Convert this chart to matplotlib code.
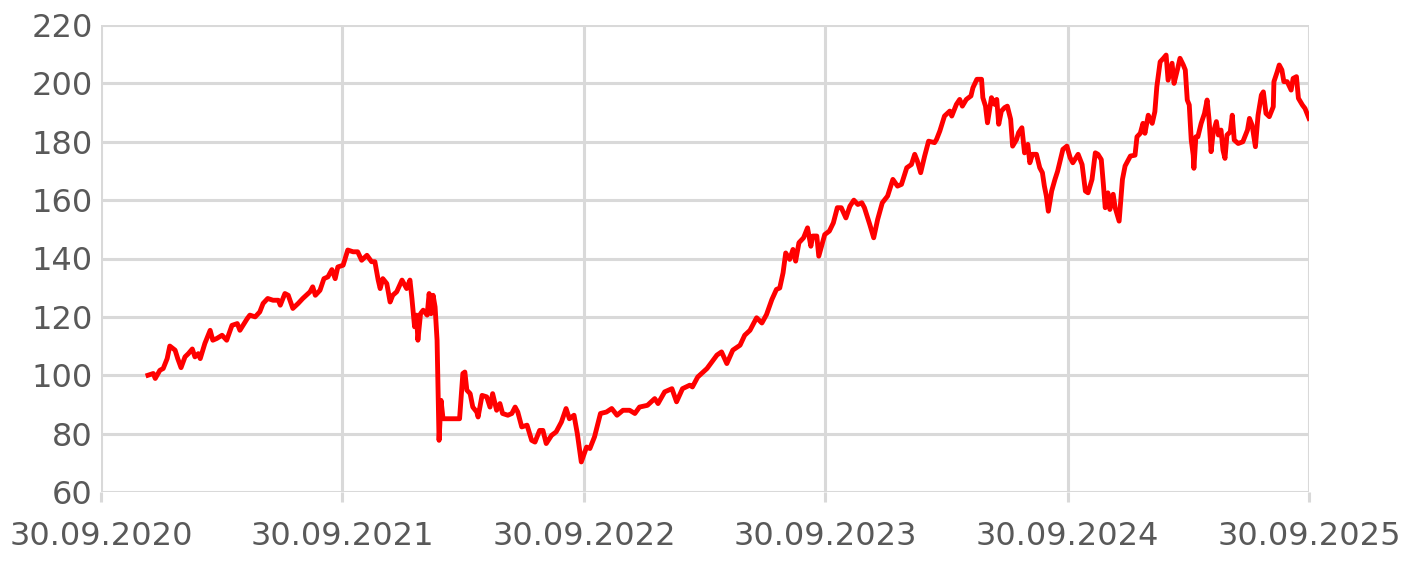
import pandas as pd
import matplotlib
matplotlib.use("Agg")
import matplotlib.pyplot as plt
import matplotlib.dates as mdates

# Werte
dates_2021 = ["2020-12-10", "2020-12-18", "2020-12-21", "2020-12-28", "2021-01-02", "2021-01-08",
              "2021-01-12", "2021-01-20", "2021-01-24", "2021-01-29", "2021-02-04", "2021-02-09",
              "2021-02-15", "2021-02-19", "2021-02-24", "2021-02-27", "2021-03-06", "2021-03-14",
              "2021-03-18", "2021-03-24", "2021-04-01", "2021-04-08", "2021-04-16", "2021-04-24",
              "2021-04-28", "2021-05-09", "2021-05-13", "2021-05-21", "2021-05-28", "2021-06-02",
              "2021-06-09", "2021-06-17", "2021-06-25", "2021-06-28", "2021-07-05", "2021-07-10",
              "2021-07-17", "2021-07-25", "2021-08-01", "2021-08-12", "2021-08-16", "2021-08-20",
              "2021-08-27", "2021-09-02", "2021-09-08", "2021-09-14", "2021-09-19", "2021-09-23"]
values_2021 = [100, 100.6, 98.9, 101.7, 102.3, 105.7,
               110, 108.6, 105.7, 102.6, 106.3, 107.4,
               109, 106.3, 107.4, 105.7, 110.9, 115.4,
               112, 112.6, 113.7, 112, 117.1, 117.7,
               115.4, 119.4, 120.6, 120, 121.7, 124.6,
               126.3, 125.7, 125.7, 124, 128, 127.4,
               122.9, 124.6, 126.3, 128.6, 130.3, 127.4,
               129.1, 133.1, 133.7, 136.2, 133.1, 137.1]

dates_2022 = ["2021-10-01", "2021-10-08", "2021-10-16", "2021-10-23", "2021-10-29", "2021-11-06",
              "2021-11-13", "2021-11-18", "2021-11-23", "2021-11-26", "2021-11-30", "2021-12-06",
              "2021-12-11", "2021-12-15", "2021-12-21", "2021-12-29", "2022-01-02", "2022-01-05",
              "2022-01-10", "2022-01-13", "2022-01-17", "2022-01-20", "2022-01-22", "2022-01-26",
              "2022-01-30", "2022-02-05", "2022-02-08", "2022-02-11", "2022-02-14", "2022-02-17",
              "2022-02-20", "2022-02-23", "2022-02-26", "2022-03-01", "2022-03-26", "2022-03-31",
              "2022-04-03", "2022-04-06", "2022-04-11", "2022-04-15", "2022-04-21", "2022-04-23",
              "2022-04-29", "2022-05-06", "2022-05-11", "2022-05-15", "2022-05-21", "2022-05-26",
              "2022-05-30", "2022-06-07", "2022-06-13", "2022-06-18", "2022-06-22", "2022-06-28",
              "2022-07-06", "2022-07-13", "2022-07-18", "2022-07-25", "2022-07-30", "2022-08-04",
              "2022-08-12", "2022-08-19", "2022-08-27", "2022-09-03", "2022-09-08", "2022-09-15",
              "2022-09-20", "2022-09-26"]
values_2022 = [137.7, 142.9, 142.3, 142.3, 139.4, 141.1,
               138.9, 138.9, 132.6, 129.7, 133.1, 131.4,
               125.1, 127.4, 128.6, 132.6, 130.9, 129.7,
               132.6, 126.3, 116.6, 120.6, 112, 121.1,
               122.3, 120.6, 128, 121.1, 127.4, 123.4,
               112, 77.7, 91.4, 85.1, 85.1, 100.6,
               101.1, 94.9, 93.7, 89.1, 87.4, 85.7,
               93.1, 92.6, 89.1, 93.7, 88, 90.3,
               86.9, 86.3, 86.9, 89.1, 87.4, 82.3,
               82.9, 77.7, 77.1, 81.1, 81.1, 76.6,
               79.4, 80.6, 84, 88.6, 85.1, 86.3,
               80, 70.3]

dates_2023 = ["2022-10-04", "2022-10-09", "2022-10-16", "2022-10-25", "2022-11-03", "2022-11-11",
              "2022-11-19", "2022-11-28", "2022-12-08", "2022-12-16", "2022-12-23", "2023-01-04",
              "2023-01-15", "2023-01-20", "2023-01-30", "2023-02-10", "2023-02-17", "2023-02-26",
              "2023-03-09", "2023-03-13", "2023-03-21", "2023-04-04", "2023-04-19", "2023-04-26",
              "2023-05-04", "2023-05-13", "2023-05-24", "2023-05-31", "2023-06-08", "2023-06-18",
              "2023-06-26", "2023-07-03", "2023-07-11", "2023-07-18", "2023-07-23", "2023-07-28",
              "2023-08-01", "2023-08-07", "2023-08-12", "2023-08-16", "2023-08-21", "2023-08-28",
              "2023-09-03", "2023-09-08", "2023-09-11", "2023-09-17", "2023-09-20", "2023-09-29"]
values_2023 = [75.4, 74.9, 78.9, 86.9, 87.4, 88.6,
               86.3, 88, 88, 86.9, 89.1, 89.7,
               92, 90.3, 94.3, 95.4, 90.9, 95.4,
               96.6, 96, 99.4, 102.3, 106.9, 108,
               104, 108.6, 110.3, 113.7, 115.4, 119.7,
               117.9, 120.8, 125.9, 129.4, 129.9, 135.1,
               141.9, 139.7, 143.1, 139.1, 145.4, 147.1,
               150.5, 144.2, 147.7, 147.7, 140.8, 148.2]

dates_2024 = ["2023-10-06", "2023-10-12", "2023-10-18", "2023-10-24", "2023-10-31", "2023-11-06",
              "2023-11-12", "2023-11-18", "2023-11-24", "2023-11-28", "2023-12-06", "2023-12-12",
              "2023-12-18", "2023-12-25", "2024-01-02", "2024-01-10", "2024-01-17", "2024-01-23",
              "2024-01-31", "2024-02-07", "2024-02-12", "2024-02-16", "2024-02-21", "2024-02-27",
              "2024-03-04", "2024-03-13", "2024-03-16", "2024-03-21", "2024-03-28", "2024-04-05",
              "2024-04-08", "2024-04-15", "2024-04-20", "2024-04-24", "2024-04-30", "2024-05-07",
              "2024-05-10", "2024-05-16", "2024-05-23", "2024-05-25", "2024-05-29", "2024-06-01",
              "2024-06-07", "2024-06-12", "2024-06-15", "2024-06-18", "2024-06-22", "2024-06-27",
              "2024-07-01", "2024-07-06", "2024-07-09", "2024-07-15", "2024-07-18", "2024-07-23",
              "2024-07-27", "2024-08-01", "2024-08-04", "2024-08-08", "2024-08-14", "2024-08-19",
              "2024-08-23", "2024-08-26", "2024-08-29", "2024-09-01", "2024-09-06", "2024-09-11",
              "2024-09-15", "2024-09-23", "2024-09-29"]
values_2024 = [149.4, 152.2, 157.4, 157.4, 153.9, 157.9,
               160, 158.5, 159.1, 157.4, 151.7, 147.1,
               153.4, 159.1, 161.4, 167.1, 164.8, 165.4,
               171.1, 172.2, 175.7, 173.4, 169.4, 175.1,
               180.2, 179.7, 180.8, 183.7, 188.8, 190.5,
               188.8, 192.8, 194.5, 192.2, 194.5, 195.7,
               198.5, 201.4, 201.4, 195.1, 192.2, 186.5,
               195.1, 192.8, 194.5, 186, 190.5, 191.7,
               192.2, 187.7, 178.5, 180.8, 183.1, 184.8,
               176.2, 179.1, 172.8, 175.7, 175.7, 171.1,
               169.4, 164.8, 161.4, 156.2, 163.1, 167.1,
               169.9, 177.4, 178.5]

dates_2025 = ["2024-10-04", "2024-10-08", "2024-10-16", "2024-10-22", "2024-10-27", "2024-10-31",
              "2024-11-06", "2024-11-11", "2024-11-15", "2024-11-20", "2024-11-23", "2024-11-26",
              "2024-11-30", "2024-12-03", "2024-12-08", "2024-12-11", "2024-12-17", "2024-12-22",
              "2024-12-26", "2025-01-03", "2025-01-10", "2025-01-13", "2025-01-18", "2025-01-22",
              "2025-01-25", "2025-01-30", "2025-02-05", "2025-02-09", "2025-02-12", "2025-02-17",
              "2025-02-22", "2025-02-26", "2025-03-01", "2025-03-07", "2025-03-10", "2025-03-15",
              "2025-03-19", "2025-03-24", "2025-03-27", "2025-03-30", "2025-04-02", "2025-04-05",
              "2025-04-08", "2025-04-09", "2025-04-12", "2025-04-15", "2025-04-20", "2025-04-25",
              "2025-04-29", "2025-05-02", "2025-05-05", "2025-05-08", "2025-05-13", "2025-05-16",
              "2025-05-20", "2025-05-23", "2025-05-26", "2025-05-29", "2025-06-03", "2025-06-06",
              "2025-06-09", "2025-06-15", "2025-06-22", "2025-06-29", "2025-07-02", "2025-07-06",
              "2025-07-11", "2025-07-15", "2025-07-20", "2025-07-23", "2025-07-27", "2025-08-01",
              "2025-08-07", "2025-08-08", "2025-08-13", "2025-08-16", "2025-08-20", "2025-08-23",
              "2025-08-28", "2025-09-03", "2025-09-06", "2025-09-11", "2025-09-14", "2025-09-20",
              "2025-09-24", "2025-09-30"]
values_2025 = [174.5, 172.8, 175.7, 172.2, 163.1, 162.5,
               167.1, 176.2, 175.7, 173.9, 165.9, 157.4,
               162.5, 156.8, 162, 157.4, 152.8, 167.1,
               171.7, 175.1, 175.4, 181.7, 182.9, 186.3,
               182.9, 189.1, 186.3, 190.3, 198.9, 207.4,
               208.6, 209.7, 201.1, 206.9, 200, 204.6,
               208.6, 206.3, 204.6, 194.3, 192.6, 180.6,
               175.4, 170.9, 181.7, 181.7, 186.3, 189.7,
               194.3, 187.4, 176.6, 182.9, 186.9, 182.3,
               184, 177.1, 174.3, 182.3, 183.4, 189.1,
               180.6, 179.4, 180, 184, 188, 185.7,
               178.3, 189.1, 196, 197.1, 189.7, 188.6,
               192, 200.6, 204, 206.3, 204.6, 200.6,
               200.6, 197.7, 201.7, 202.3, 194.9, 192.6,
               191.4, 188]

dates = pd.to_datetime(dates_2021 + dates_2022 + dates_2023 + dates_2024 + dates_2025)
values = values_2021 + values_2022 + values_2023 + values_2024 + values_2025

tick_dates = pd.to_datetime(["2020-09-30", "2021-09-30", "2022-09-30",
                             "2023-09-30", "2024-09-30", "2025-09-30"])
y_ticks = [60, 80, 100, 120, 140, 160, 180, 200, 220]

plt.rcParams['font.family'] = ['DejaVu Sans']
grid_col = '#d9d9d9'
text_col = '#595959'

fig = plt.figure(figsize=(14.04, 5.70), dpi=100)
ax = fig.add_axes([101 / 1404, 1 - 492 / 570, 1208 / 1404, 467 / 570])

ax.plot(dates, values, color='#ff0000', lw=3.5, solid_joinstyle='round', zorder=3)

ax.set_xlim(tick_dates[0], tick_dates[-1])
ax.set_ylim(60, 220)
ax.set_xticks(tick_dates)
ax.xaxis.set_major_formatter(mdates.DateFormatter('%d.%m.%Y'))
ax.set_yticks(y_ticks)

ax.grid(True, color=grid_col, lw=2.2, zorder=0)
for s in ax.spines.values():
    s.set_visible(False)
ax.set_axisbelow(True)

ax.tick_params(axis='x', length=7, width=2.2, color=grid_col, labelsize=23, labelcolor=text_col, pad=14)
ax.tick_params(axis='y', length=0, labelsize=23, labelcolor=text_col, pad=6)

fig.savefig('out.png', dpi=100)
